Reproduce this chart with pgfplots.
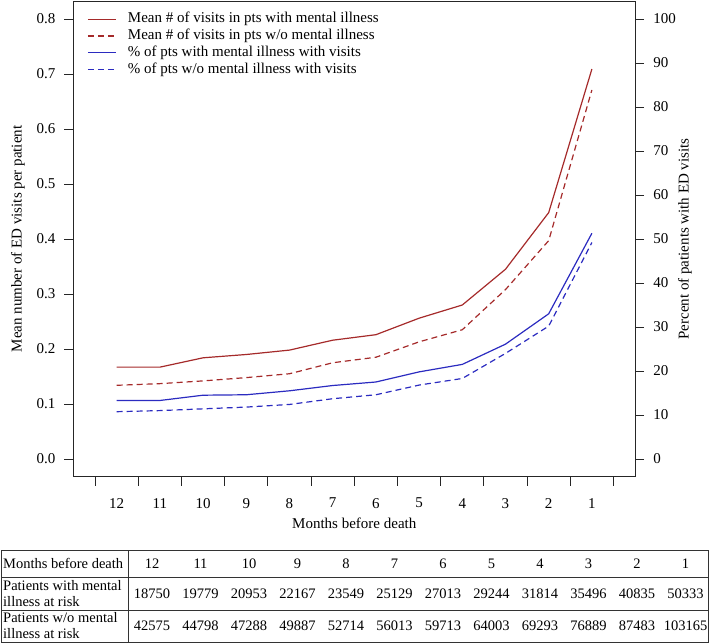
\documentclass[border=0pt]{standalone}
\usepackage{fontspec}
\setmainfont{Liberation Serif}
\usepackage{pgfplots}
\pgfplotsset{compat=1.18}
\definecolor{edRed}{HTML}{A52A2A}
\definecolor{edBlue}{HTML}{2B2BC0}

\pgfplotsset{edbase/.style={
  scale only axis, width=561.6pt, height=475.2pt,
  at={(73.5pt,166.4pt)}, anchor=south west,
  x dir=reverse, xmin=0, xmax=13,
  tick align=outside, major tick length=9pt, minor tick length=9pt,
  axis line style={black!85, line width=0.8pt},
  every tick/.append style={black!85, line width=0.8pt},
  ticklabel style={font=\fontsize{15}{18}\selectfont},
  /pgf/number format/assume math mode=true,
  label style={font=\fontsize{15}{18}\selectfont},
}}

\begin{document}
\begin{tikzpicture}
\useasboundingbox (0pt,0pt) rectangle (709pt,643pt);

% left axis: mean number of visits
\begin{axis}[edbase,
  ymin=-0.032, ymax=0.832,
  ytick={0,0.1,0.2,0.3,0.4,0.5,0.6,0.7,0.8},
  yticklabel style={/pgf/number format/.cd, fixed, fixed zerofill, precision=1},
  ytick pos=left, xtick pos=bottom,
  xtick={1,...,12}, major x tick style={draw=none},
  minor xtick={0.5,1.5,...,12.5},
  xticklabel shift=9pt, yticklabel shift=5.7pt,
  xlabel={Months before death},
  xlabel style={at={(axis description cs:0.5,-0.0976)}, anchor=center},
  ylabel={Mean number of ED visits per patient},
  ylabel style={at={(axis description cs:-0.0988,0.5)}, anchor=center},
]
\addplot[edRed, line width=1.2pt] coordinates {
(12,0.167) (11,0.167) (10,0.184) (9,0.190) (8,0.198) (7,0.216)
(6,0.226) (5,0.256) (4,0.280) (3,0.345) (2,0.448) (1,0.709)};
\addplot[edRed, line width=1.2pt, dash pattern=on 6pt off 4pt] coordinates {
(12,0.134) (11,0.137) (10,0.142) (9,0.148) (8,0.155) (7,0.175)
(6,0.185) (5,0.213) (4,0.235) (3,0.308) (2,0.397) (1,0.671)};
\end{axis}

% right axis: percent with visits
\begin{axis}[edbase,
  ymin=-4, ymax=104,
  ytick={0,10,...,100},
  axis y line*=right, axis x line=none,
  tick align=outside, yticklabel shift=5.7pt,
  ylabel={Percent of patients with ED visits},
  ylabel style={at={(axis description cs:1.0889,0.5)}, anchor=center},
  legend cell align=left,
  legend image code/.code={\draw[#1] (0pt,0pt) -- (28pt,0pt);},
  legend style={draw=none, fill=none, at={(axis description cs:0.024,0.9805)},
    anchor=north west, font=\fontsize{15}{17}\selectfont,
    inner sep=0pt, row sep=0pt, column sep=10pt,
    nodes={inner sep=1.6pt, text height=10.5pt, text depth=3pt}},
]
\addlegendimage{edRed, line width=1.2pt}
\addlegendentry{Mean \# of visits in pts with mental illness}
\addlegendimage{edRed, line width=1.2pt, dash pattern=on 6pt off 4pt}
\addlegendentry{Mean \# of visits in pts w/o mental illness}
\addplot[edBlue, line width=1.2pt] coordinates {
(12,13.3) (11,13.3) (10,14.5) (9,14.6) (8,15.5) (7,16.7)
(6,17.5) (5,19.8) (4,21.5) (3,26.1) (2,33.0) (1,51.3)};
\addlegendentry{\% of pts with mental illness with visits}
\addplot[edBlue, line width=1.2pt, dash pattern=on 6pt off 4pt] coordinates {
(12,10.75) (11,11.0) (10,11.4) (9,11.8) (8,12.4) (7,13.7)
(6,14.6) (5,16.8) (4,18.3) (3,24.0) (2,30.2) (1,49.2)};
\addlegendentry{\% of pts w/o mental illness with visits}
\end{axis}

% at-risk table
\begin{scope}[font=\fontsize{14.5}{16}\selectfont]
\draw[black!80, line width=0.8pt] (1pt,1pt) rectangle (708pt,93pt);
\draw[black!80, line width=0.8pt] (1pt,66pt) -- (708pt,66pt);
\draw[black!80, line width=0.8pt] (1pt,33pt) -- (708pt,33pt);
\draw[black!80, line width=0.8pt] (128pt,1pt) -- (128pt,93pt);
\node[anchor=west, inner sep=0pt] at (3pt,79.5pt) {Months before death};
\node[anchor=west, align=left, inner sep=0pt] at (3pt,49.5pt) {Patients with mental\\illness at risk};
\node[anchor=west, align=left, inner sep=0pt] at (3pt,17pt) {Patients w/o mental\\illness at risk};
\foreach \m [count=\i from 0] in {12,11,10,9,8,7,6,5,4,3,2,1}
  \node at ({152pt+48.5pt*\i},79.5pt) {\m};
\foreach \v [count=\i from 0] in {18750,19779,20953,22167,23549,25129,27013,29244,31814,35496,40835,50333}
  \node at ({152pt+48.5pt*\i},49.5pt) {\v};
\foreach \v [count=\i from 0] in {42575,44798,47288,49887,52714,56013,59713,64003,69293,76889,87483,103165}
  \node at ({152pt+48.5pt*\i},17pt) {\v};
\end{scope}
\end{tikzpicture}
\end{document}
